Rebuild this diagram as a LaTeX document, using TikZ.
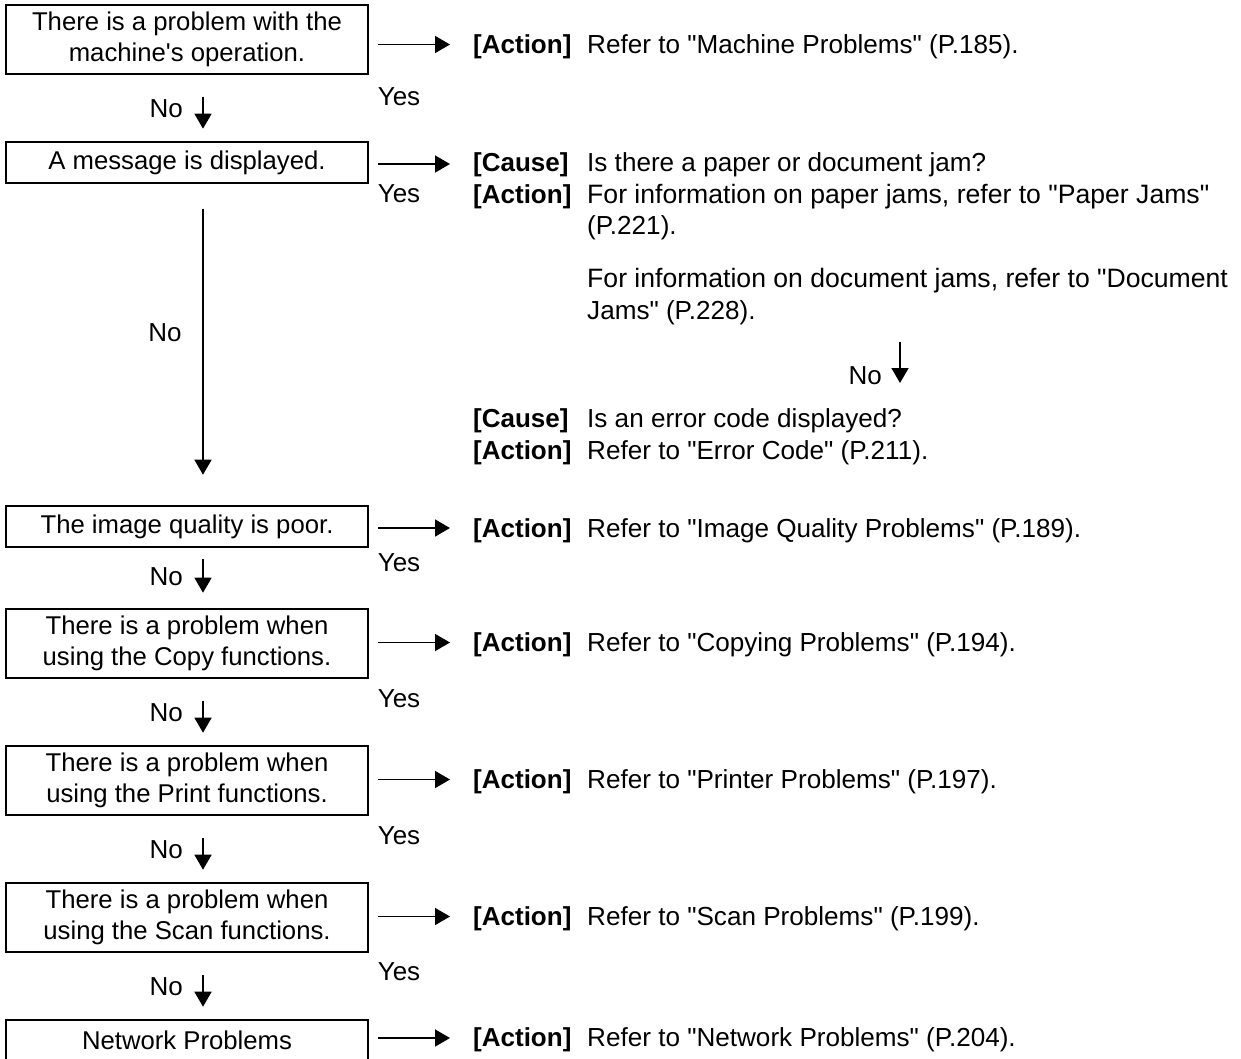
\documentclass[tikz,border=0pt]{standalone}
\usepackage{fontspec}
\setmainfont{Liberation Sans}
\usetikzlibrary{arrows.meta}
\newcommand{\qq}{\textquotedbl}
\tikzset{
  box/.style={draw, line width=2.6pt, minimum width=362pt, inner sep=0pt, align=center,
              font=\fontsize{25.7}{31}\selectfont},
  flow/.style={line width=1.6pt, -{Triangle[length=15pt,width=17pt]}},
  txt/.style={font=\fontsize{26.1}{31}\selectfont, inner sep=0pt, anchor=base west},
  widetxt/.style={txt, font=\fontsize{26.6}{31}\selectfont},
  tag/.style={txt, font=\fontsize{26}{31}\selectfont\bfseries},
  yn/.style={font=\fontsize{26}{31}\selectfont, inner sep=0pt}
}
\begin{document}
\begin{tikzpicture}[x=1pt,y=-1pt]
\useasboundingbox (0,0) rectangle (1241,1058);
% boxes
\node[box, minimum height=69pt] (b1) at (187,39.5) {There is a problem with the\\machine\textquotesingle s operation.};
\node[box, minimum height=41pt] (b2) at (187,162.5) {A message is displayed.};
\node[box, minimum height=41pt] (b3) at (187,526.5) {The image quality is poor.};
\node[box, minimum height=69pt] (b4) at (187,643.5) {There is a problem when\\using the Copy functions.};
\node[box, minimum height=69pt] (b5) at (187,780.5) {There is a problem when\\using the Print functions.};
\node[box, minimum height=69pt] (b6) at (187,917.5) {There is a problem when\\using the Scan functions.};
\node[box, minimum height=41pt] (b7) at (187,1040.5) {Network Problems};

% right column
\node[tag] (t1) at (473,53) {[Action]};
\node[txt] (d1) at (587,53) {Refer to \qq Machine Problems\qq{} (P.185).};

\node[tag] (t2a) at (473,171) {[Cause]};
\node[txt] (d2a) at (587,171) {Is there a paper or document jam?};
\node[tag] (t2b) at (473,203) {[Action]};
\node[widetxt] (d2b) at (587,203) {For information on paper jams, refer to \qq Paper Jams\qq};
\node[txt] (d2c) at (587,234) {(P.221).};
\node[widetxt] (d2d) at (587,287) {For information on document jams, refer to \qq Document};
\node[txt] (d2e) at (587,319) {Jams\qq{} (P.228).};

\coordinate (n1s) at (900,342);
\coordinate (n1e) at (900,383);
\node[yn, anchor=east] (no8) at (882,376) {No};
\draw[flow] (n1s) -- (n1e);

\node[tag] (t2f) at (473,427) {[Cause]};
\node[txt] (d2f) at (587,427) {Is an error code displayed?};
\node[tag] (t2g) at (473,459) {[Action]};
\node[txt] (d2g) at (587,459) {Refer to \qq Error Code\qq{} (P.211).};

\node[tag] (t3) at (473,537) {[Action]};
\node[txt] (d3) at (587,537) {Refer to \qq Image Quality Problems\qq{} (P.189).};
\node[tag] (t4) at (473,651) {[Action]};
\node[txt] (d4) at (587,651) {Refer to \qq Copying Problems\qq{} (P.194).};
\node[tag] (t5) at (473,788) {[Action]};
\node[txt] (d5) at (587,788) {Refer to \qq Printer Problems\qq{} (P.197).};
\node[tag] (t6) at (473,925) {[Action]};
\node[txt] (d6) at (587,925) {Refer to \qq Scan Problems\qq{} (P.199).};
\node[tag] (t7) at (473,1046) {[Action]};
\node[txt] (d7) at (587,1046) {Refer to \qq Network Problems\qq{} (P.204).};

% Yes arrows
\foreach \b/\t/\dy in {b1/t1/-5, b2/t2a/-1.5, b3/t3/-1.5, b4/t4/1, b5/t5/1, b6/t6/1, b7/t7/2.5}{
  \coordinate (s\b) at ([xshift=9pt,yshift=\dy pt]\b.east);
  \draw[flow] (s\b) -- ([xshift=-23pt]\t.west |- s\b);
}
% Yes labels
\node[yn] (y1) at (399,97) {Yes};
\node[yn] (y2) at (399,194) {Yes};
\node[yn] (y3) at (399,563) {Yes};
\node[yn] (y4) at (399,699) {Yes};
\node[yn] (y5) at (399,836) {Yes};
\node[yn] (y6) at (399,972) {Yes};

% No arrows
\draw[flow] ([xshift=16pt,yshift=-22pt]b1.south) -- ([xshift=16pt,yshift=12pt]b2.north);
\draw[flow] ([xshift=16pt,yshift=-25pt]b2.south) -- ([xshift=16pt,yshift=30pt]b3.north);
\draw[flow] ([xshift=16pt,yshift=-11pt]b3.south) -- ([xshift=16pt,yshift=15pt]b4.north);
\draw[flow] ([xshift=16pt,yshift=-22pt]b4.south) -- ([xshift=16pt,yshift=12pt]b5.north);
\draw[flow] ([xshift=16pt,yshift=-22pt]b5.south) -- ([xshift=16pt,yshift=12pt]b6.north);
\draw[flow] ([xshift=16pt,yshift=-22pt]b6.south) -- ([xshift=16pt,yshift=12pt]b7.north);
\node[yn, anchor=east] (no1) at (183,109) {No};
\node[yn] (no2) at (165,333) {No};
\node[yn, anchor=east] (no3) at (183,577) {No};
\node[yn, anchor=east] (no4) at (183,713) {No};
\node[yn, anchor=east] (no5) at (183,850) {No};
\node[yn, anchor=east] (no6) at (183,987) {No};
\end{tikzpicture}
\end{document}
